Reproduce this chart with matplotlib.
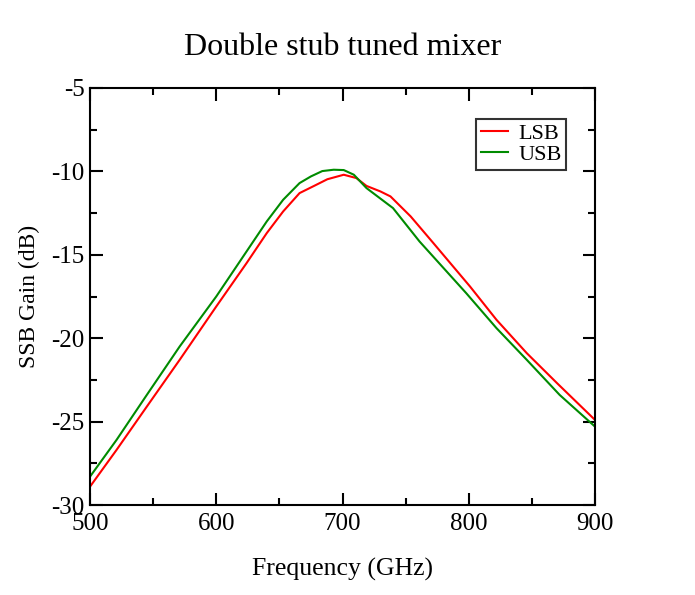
import matplotlib
matplotlib.use('Agg')
import matplotlib.pyplot as plt
from matplotlib.ticker import MultipleLocator

# values
freq_lsb = [500, 521, 545, 571, 600, 624, 640, 653, 666, 678, 688, 701, 711, 719, 730, 738, 754, 772, 801, 822, 846, 870, 900]
gain_lsb = [-28.9, -26.7, -24.1, -21.3, -18.1, -15.5, -13.7, -12.4, -11.3, -10.85, -10.47, -10.2, -10.4, -10.87, -11.2,
            -11.5, -12.7, -14.3, -16.9, -18.9, -20.9, -22.7, -24.9]

freq_usb = [500, 521, 545, 571, 600, 624, 640, 653, 666, 675, 684, 693, 701, 709, 719, 740, 761, 798, 822, 846, 872, 900]
gain_usb = [-28.3, -26.1, -23.4, -20.5, -17.5, -14.8, -13.0, -11.7, -10.7, -10.3, -9.98, -9.9, -9.92, -10.2, -11.0, -12.2,
            -14.2, -17.3, -19.4, -21.3, -23.4, -25.3]

plt.rcParams['font.family'] = ['Liberation Serif', 'DejaVu Serif']
plt.rcParams['axes.unicode_minus'] = False

fig = plt.figure(figsize=(6.95, 5.95), dpi=100)
ax = fig.add_axes([90 / 695, 1 - 505 / 595, 505 / 695, 417 / 595])

ax.plot(freq_lsb, gain_lsb, color='#ff0000', lw=1.5, label='LSB')
ax.plot(freq_usb, gain_usb, color='#008b00', lw=1.5, label='USB')

ax.set_xlim(500, 900)
ax.set_ylim(-30, -5)
ax.xaxis.set_major_locator(MultipleLocator(100))
ax.xaxis.set_minor_locator(MultipleLocator(50))
ax.yaxis.set_major_locator(MultipleLocator(5))
ax.yaxis.set_minor_locator(MultipleLocator(2.5))
ax.tick_params(which='both', direction='in', top=True, right=True, width=1.5, labelsize=18)
ax.tick_params(which='major', length=9)
ax.tick_params(which='minor', length=5)
ax.tick_params(axis='x', which='major', pad=6)
ax.tick_params(axis='y', which='major', pad=4)
for s in ax.spines.values():
    s.set_linewidth(1.5)

ax.set_xlabel('Frequency (GHz)', fontsize=18.5, labelpad=16)
ax.set_ylabel('SSB Gain (dB)', fontsize=17, labelpad=8)
ax.set_title('Double stub tuned mixer', fontsize=23, pad=24)

leg = ax.legend(loc='upper right', bbox_to_anchor=(0.943, 0.925), fontsize=16, frameon=True, fancybox=False,
                edgecolor='black', handlelength=1.25, handletextpad=0.45, borderpad=0.2, labelspacing=0.02,
                borderaxespad=0)
leg.get_frame().set_linewidth(1.5)

fig.savefig('out.png', dpi=100)
